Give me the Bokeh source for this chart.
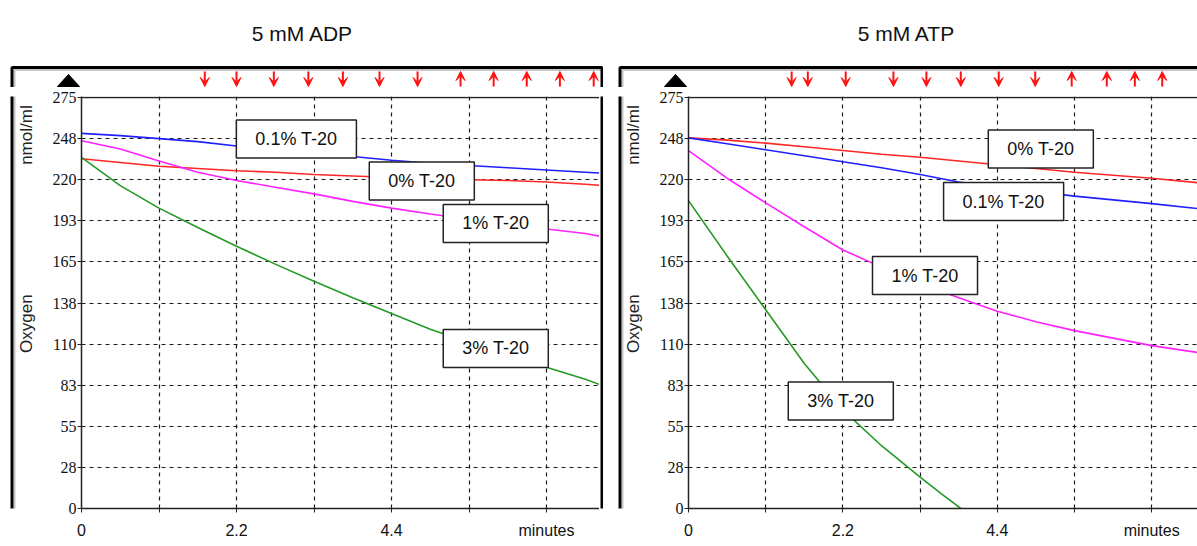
import math
from bokeh.plotting import figure
from bokeh.layouts import row, column
from bokeh.models import (Range1d, FixedTicker, Label, Arrow, VeeHead, BoxAnnotation,
                          PolyAnnotation, ColumnDataSource, Span)
from bokeh.core.properties import value
from bokeh.embed import file_html
from bokeh.resources import INLINE

# ---------------- data ----------------
titles = ["5 mM ADP", "5 mM ATP"]
series_names = ["0% T-20", "0.1% T-20", "1% T-20", "3% T-20"]
series_colors = ["#ff2626", "#2020ff", "#ff20ff", "#239a23"]

# 5 mM ADP (minutes, nmol/ml)
adp_t = [0, 0.55, 1.1, 1.65, 2.2, 2.75, 3.3, 3.85, 4.4, 4.95, 5.5, 6.05, 6.6, 7.15, 7.41]
adp_0 = [234, 231.5, 229, 227.5, 226, 225, 223.5, 222.5, 221.5, 220.5, 220, 219.5, 218.5, 217, 216]
adp_01 = [251, 249.5, 247.5, 245.5, 242.5, 240.5, 238, 235.5, 233, 231, 229.5, 228, 226.5, 225, 224.3]
adp_1 = [246, 240.5, 232.5, 225, 219.5, 215, 210.5, 205.5, 201, 197, 193.5, 190, 187, 184, 181.7]
adp_3 = [235, 216, 201, 188, 175.5, 163.5, 152, 141, 130.5, 120, 111, 102.5, 94.5, 86.5, 82]

# 5 mM ATP
atp_t = [0, 0.55, 1.1, 1.65, 2.2, 2.75, 3.3, 3.85, 4.4, 4.95, 5.5, 6.05, 6.6, 7.25]
atp_0 = [248, 246.5, 244.5, 242, 239.5, 237, 235, 232.5, 230, 227.5, 225, 223, 221, 218]
atp_01 = [248, 244, 240, 236, 232, 228, 223.5, 218.5, 215, 212, 209, 206.5, 204, 200.7]
atp_1 = [239.5, 221, 204.5, 188.5, 173, 161.5, 150.5, 141, 132, 125, 119, 114, 109, 104.4]
atp_3_t = [0, 0.55, 1.1, 1.65, 2.2, 2.75, 3.3, 3.6, 3.88]
atp_3 = [206, 169, 133, 97, 66, 42, 21, 10, 0]

# event markers (minutes)
adp_down = [1.75, 2.2, 2.73, 3.22, 3.71, 4.23, 4.77]
adp_up = [5.38, 5.85, 6.32, 6.79, 7.27]
atp_down = [1.47, 1.70, 2.24, 2.92, 3.39, 3.88, 4.42, 4.94]
atp_up = [5.46, 5.96, 6.36, 6.75]

y_ticks = [0, 27.5, 55, 82.5, 110, 137.5, 165, 192.5, 220, 247.5, 275]
y_tick_labels = ["0", "28", "55", "83", "110", "138", "165", "193", "220", "248", "275"]
x_ticks = [0, 1.1, 2.2, 3.3, 4.4, 5.5, 6.6]
x_tick_labels = ["0", "", "2.2", "", "4.4", "", "minutes"]

# ---------------- layout constants ----------------
PAGE_H = 546
TOP_H = 87                                  # height of strip above the plot area
FRAME_TOP, FRAME_BOTTOM = 97, 508           # page pixels of 275 and 0
PPY = (FRAME_BOTTOM - FRAME_TOP) / 275.0
AXIS_W = 35                                 # room for the y tick labels
RED = "#ff1010"
FONT = "Liberation Sans"


def y_at(page_y):
    return (FRAME_BOTTOM - page_y) / PPY


def bare(width, height, xr, yr):
    f = figure(width=width, height=height, x_range=xr, y_range=yr,
               x_axis_type=None, y_axis_type=None, output_backend="svg",
               toolbar_location=None, tools="", min_border_left=0, min_border_right=0,
               min_border_top=0, min_border_bottom=0)
    f.outline_line_color = None
    f.background_fill_color = "white"
    f.border_fill_color = "white"
    return f


def make_panel(title, series, down, up, label_pos, panel_left, panel_w, frame_left,
               px_per_min, box_left, box_right, title_center, right_strip):
    left_w = frame_left - AXIS_W - panel_left
    panel_right = panel_left + panel_w
    plot_right = panel_right - right_strip

    def x_at(page_x):
        return (page_x - frame_left) / px_per_min

    def add_box(f):
        f.add_layout(BoxAnnotation(left=x_at(box_left + 2.5), right=x_at(box_right + 30),
                                   top=y_at(69.5), bottom=y_at(900), fill_color=None,
                                   line_color="#c4c4c4", line_alpha=1.0, line_width=2))
        f.add_layout(BoxAnnotation(left=x_at(box_left), right=x_at(box_right),
                                   top=y_at(67), bottom=y_at(900), fill_color=None,
                                   line_color="black", line_alpha=1.0, line_width=3))

    # ---- top strip: title, event markers ----
    top = bare(panel_w, TOP_H, Range1d(x_at(panel_left), x_at(panel_right)),
               Range1d(y_at(TOP_H), y_at(0)))
    add_box(top)
    top.text(x=[x_at(title_center)], y=[y_at(33)], text=[title],
             text_font=value(FONT), text_font_size=value("21px"), text_color="#111111",
             text_align="center", text_baseline="middle")
    head_d = VeeHead(size=9, fill_color=RED, line_color=RED, line_width=1)
    top.add_layout(Arrow(end=head_d, x_start="t", x_end="t", y_start=y_at(71), y_end=y_at(86),
                         source=ColumnDataSource(dict(t=down)), line_color=RED, line_width=2))
    head_u = VeeHead(size=9, fill_color=RED, line_color=RED, line_width=1)
    top.add_layout(Arrow(end=head_u, x_start="t", x_end="t", y_start=y_at(86), y_end=y_at(71),
                         source=ColumnDataSource(dict(t=up)), line_color=RED, line_width=2))
    top.add_layout(PolyAnnotation(xs=[x_at(frame_left - 24), x_at(frame_left - 2), x_at(frame_left - 13)],
                                  ys=[y_at(86), y_at(86), y_at(74)],
                                  fill_color="black", fill_alpha=1.0, line_color="black",
                                  line_alpha=1.0, line_width=1))

    body_h = PAGE_H - TOP_H
    # ---- left strip: axis names ----
    side = bare(left_w, body_h, Range1d(x_at(panel_left), x_at(panel_left + left_w)),
                Range1d(y_at(PAGE_H), y_at(TOP_H)))
    add_box(side)
    for txt, py in (("nmol/ml", 130), ("Oxygen", 340)):
        side.add_layout(Label(x=x_at(frame_left - 55), y=y_at(py), text=txt, angle=math.pi / 2,
                              text_font=FONT, text_font_size="17px", text_color="#222222",
                              text_align="center", text_baseline="middle"))

    # ---- main plot ----
    p = figure(width=plot_right - frame_left + AXIS_W, height=body_h,
               x_range=Range1d(0, x_at(plot_right)), y_range=Range1d(0, y_at(FRAME_TOP - 1)),
               output_backend="svg", toolbar_location=None, tools="",
               min_border_left=AXIS_W, min_border_right=0,
               min_border_top=FRAME_TOP - 1 - TOP_H,
               min_border_bottom=PAGE_H - FRAME_BOTTOM)
    p.outline_line_color = None
    p.background_fill_color = "white"
    p.border_fill_color = "white"

    p.xaxis.ticker = FixedTicker(ticks=x_ticks)
    p.xaxis.major_label_overrides = {k: v for k, v in zip(x_ticks, x_tick_labels)}
    p.yaxis.ticker = FixedTicker(ticks=y_ticks)
    p.yaxis.major_label_overrides = {k: v for k, v in zip(y_ticks, y_tick_labels)}
    for ax in (p.xaxis, p.yaxis):
        ax.axis_line_color = "#222222"
        ax.axis_line_width = 1.5
        ax.major_tick_line_color = "#222222"
        ax.major_tick_out = 4
        ax.major_tick_in = 0
        ax.minor_tick_line_color = None
        ax.major_label_text_color = "#111111"
        ax.major_label_text_font_size = "16px"
    p.xaxis.major_label_text_font = FONT
    p.xaxis.major_label_standoff = 9
    p.yaxis.major_label_text_font = "Liberation Sans Narrow"
    p.yaxis.major_label_standoff = 1

    p.grid.grid_line_color = "#1a1a1a"
    p.grid.grid_line_dash = "4 4"
    p.grid.grid_line_width = 1.2
    p.add_layout(Span(location=275, dimension="width", line_color="#222222", line_width=1.5))

    for (t, y), col in zip(series, series_colors):
        p.line(t, y, line_color=col, line_width=1.6)

    for name in series_names:
        lx, ly = label_pos[name]
        p.add_layout(Label(x=lx, y=ly, text=name, text_font=FONT, text_font_size="18px",
                           text_color="#111111", text_align="center", text_baseline="middle",
                           border_line_color="#222222", border_line_width=1.5,
                           background_fill_color="white", padding=(19, 9)))

    parts = [side, p]
    if right_strip > 0:
        rs = bare(right_strip, body_h, Range1d(x_at(plot_right), x_at(panel_right)),
                  Range1d(y_at(PAGE_H), y_at(TOP_H)))
        add_box(rs)
        parts.append(rs)

    return column(top, row(*parts, spacing=0), spacing=0)


adp_labels = {"0.1% T-20": (3.05, 247.2), "0% T-20": (4.83, 219.1),
              "1% T-20": (5.88, 190.7), "3% T-20": (5.88, 107.1)}
atp_labels = {"0% T-20": (5.02, 240.5), "0.1% T-20": (4.49, 205.4),
              "1% T-20": (3.37, 155.9), "3% T-20": (2.17, 71.9)}

panel1 = make_panel(titles[0],
                    [(adp_t, adp_0), (adp_t, adp_01), (adp_t, adp_1), (adp_t, adp_3)],
                    adp_down, adp_up, adp_labels,
                    panel_left=0, panel_w=603, frame_left=81, px_per_min=77.5 / 1.1,
                    box_left=11.5, box_right=601.5, title_center=302, right_strip=4)
panel2 = make_panel(titles[1],
                    [(atp_t, atp_0), (atp_t, atp_01), (atp_t, atp_1), (atp_3_t, atp_3)],
                    atp_down, atp_up, atp_labels,
                    panel_left=603, panel_w=594, frame_left=688, px_per_min=77.2 / 1.1,
                    box_left=619.5, box_right=1260, title_center=906, right_strip=0)

layout = row(panel1, panel2, spacing=0)
open("out.html", "w").write(file_html(layout, INLINE))
